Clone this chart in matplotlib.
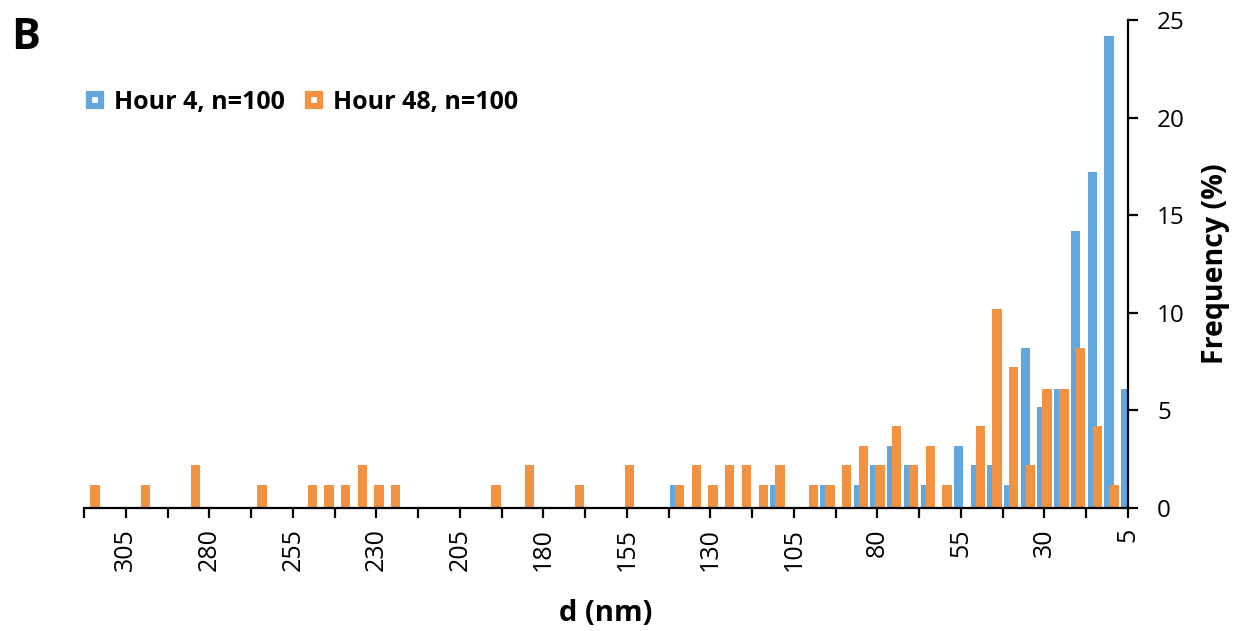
import numpy as np
import matplotlib
matplotlib.use("Agg")
import matplotlib.pyplot as plt
from matplotlib.lines import Line2D

plt.rcParams['font.family'] = ['Open Sans', 'DejaVu Sans']

# ---- data ----
d_nm = list(range(5, 320, 5))  # bin labels, 5 .. 315 nm
hour4 = [6.1, 24.2, 17.2, 14.2, 6.1, 5.2, 8.2, 1.2, 2.2, 2.2,   # 5-50
         3.2, 0, 1.2, 2.2, 3.2, 2.2, 1.2, 0, 1.2, 0,            # 55-100
         0, 1.2, 0, 0, 0, 0, 0, 1.2, 0, 0,                      # 105-150
         0, 0, 0, 0, 0, 0, 0, 0, 0, 0,                          # 155-200
         0, 0, 0, 0, 0, 0, 0, 0, 0, 0,                          # 205-250
         0, 0, 0, 0, 0, 0, 0, 0, 0, 0,                          # 255-300
         0, 0, 0]                                               # 305-315
hour48 = [0, 1.2, 4.2, 8.2, 6.1, 6.1, 2.2, 7.2, 10.2, 4.2,      # 5-50
          0, 1.2, 3.2, 2.2, 4.2, 2.2, 3.2, 2.2, 1.2, 1.2,       # 55-100
          0, 2.2, 1.2, 2.2, 2.2, 1.2, 2.2, 1.2, 0, 0,           # 105-150
          2.2, 0, 0, 1.2, 0, 0, 2.2, 0, 1.2, 0,                 # 155-200
          0, 0, 0, 0, 1.2, 1.2, 2.2, 1.2, 1.2, 1.2,             # 205-250
          0, 0, 1.2, 0, 0, 0, 2.2, 0, 0, 1.2,                   # 255-300
          0, 0, 1.2]                                            # 305-315
labels = ["Hour 4, n=100", "Hour 48, n=100"]
x_ticklabels = list(range(5, 306, 25))
y_ticks = [0, 5, 10, 15, 20, 25]

# ---- style ----
c_blue = '#62A7DD'
c_orange = '#F39241'
bar_w = 2.8

fig = plt.figure(figsize=(12.36, 6.31), dpi=100)
ax = fig.add_axes([0.068, 0.1949, 0.8446, 0.7734])

x = np.array(d_nm, dtype=float)
ax.bar(x + 0.7, hour4, width=bar_w, color=c_blue, zorder=2)
ax.bar(x - 0.8, hour48, width=bar_w, color=c_orange, zorder=3)

ax.set_xlim(317.5, 5)
ax.set_ylim(0, 25)

for s in ['top', 'left']:
    ax.spines[s].set_visible(False)
for s in ['bottom', 'right']:
    ax.spines[s].set_linewidth(1.6)
    ax.spines[s].set_zorder(5)

ax.yaxis.tick_right()
ax.set_yticks(y_ticks)
ax.set_xticks(x_ticklabels)
ax.set_xticklabels([str(v) for v in x_ticklabels], rotation=90)
ax.set_xticks(np.arange(17.5, 318, 25), minor=True)
ax.tick_params(axis='x', which='both', direction='out', length=7.5, width=1.6,
               labelsize=18, pad=7)
ax.tick_params(axis='y', which='major', direction='out', length=7.5, width=1.6,
               labelsize=17.5, pad=13.4, right=True, left=False)
for t in ax.get_yticklabels():
    t.set_horizontalalignment('left')

ax.set_xlabel('d (nm)', fontsize=21, fontweight='bold', labelpad=20)
ax.yaxis.set_label_position('right')
ax.set_ylabel('Frequency (%)', fontsize=20.5, fontweight='bold')
ax.yaxis.set_label_coords(1.0834, 0.50)
ax.yaxis.label.set_verticalalignment('center')

handles = [Line2D([], [], linestyle='none', marker='s', markersize=9.3,
                  markerfacecolor='white', markeredgecolor=c, markeredgewidth=4.5)
           for c in (c_blue, c_orange)]
leg = fig.legend(handles, labels, loc='upper left', bbox_to_anchor=(0.0615, 0.874),
                 ncol=2, frameon=False, handlelength=0.7, handletextpad=0.4,
                 columnspacing=0.85, borderpad=0.4, borderaxespad=0,
                 prop={'weight': 'bold', 'size': 18})

fig.text(0.009, 0.975, 'B', fontsize=31, fontweight='bold', ha='left', va='top')

fig.savefig('out.png', dpi=100)
